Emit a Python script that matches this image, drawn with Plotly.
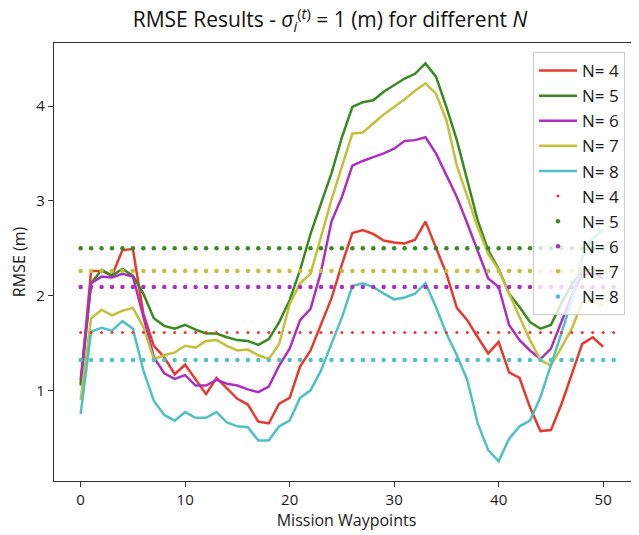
import plotly.graph_objects as go

waypoints = list(range(51))
mean_x = list(range(52))

rmse_n4 = [1.07, 2.26, 2.26, 2.21, 2.48, 2.49, 1.81, 1.47, 1.35, 1.17,
           1.27, 1.11, 0.96, 1.13, 1.02, 0.91, 0.85, 0.67, 0.65, 0.86,
           0.92, 1.25, 1.42, 1.69, 1.97, 2.33, 2.66, 2.69, 2.65, 2.58,
           2.56, 2.55, 2.59, 2.78, 2.51, 2.23, 1.87, 1.74, 1.56, 1.39,
           1.51, 1.19, 1.13, 0.82, 0.57, 0.58, 0.85, 1.18, 1.49, 1.56, 1.46]
rmse_n5 = [1.05, 2.13, 2.27, 2.21, 2.28, 2.21, 2.02, 1.76, 1.68, 1.65,
           1.69, 1.64, 1.60, 1.60, 1.56, 1.53, 1.52, 1.48, 1.54, 1.72,
           1.95, 2.27, 2.65, 2.97, 3.29, 3.67, 3.99, 4.04, 4.06, 4.15,
           4.22, 4.29, 4.34, 4.45, 4.31, 3.99, 3.64, 3.22, 2.79, 2.48,
           2.28, 2.02, 1.88, 1.72, 1.65, 1.69, 1.92, 2.12, 2.26, 2.28, 2.25]
rmse_n6 = [1.11, 2.13, 2.20, 2.19, 2.23, 2.20, 1.78, 1.35, 1.18, 1.12,
           1.16, 1.05, 1.05, 1.11, 1.07, 1.05, 1.01, 0.98, 1.04, 1.26,
           1.44, 1.74, 1.86, 2.25, 2.78, 3.04, 3.37, 3.42, 3.46, 3.50,
           3.55, 3.63, 3.64, 3.67, 3.50, 3.27, 3.04, 2.76, 2.48, 2.18,
           2.09, 1.69, 1.53, 1.42, 1.33, 1.44, 1.72, 2.00, 2.22, 2.24, 2.18]
rmse_n7 = [0.90, 1.76, 1.85, 1.79, 1.84, 1.87, 1.67, 1.33, 1.37, 1.40,
           1.47, 1.45, 1.52, 1.53, 1.47, 1.42, 1.43, 1.37, 1.33, 1.49,
           1.91, 2.13, 2.23, 2.62, 3.01, 3.36, 3.71, 3.72, 3.82, 3.91,
           3.99, 4.07, 4.16, 4.24, 4.13, 3.85, 3.37, 3.04, 2.72, 2.44,
           2.27, 2.02, 1.77, 1.53, 1.32, 1.26, 1.45, 1.65, 1.93, 1.95, 1.89]
rmse_n8 = [0.75, 1.62, 1.66, 1.63, 1.73, 1.65, 1.21, 0.89, 0.74, 0.68,
           0.77, 0.71, 0.71, 0.77, 0.66, 0.62, 0.61, 0.47, 0.47, 0.62,
           0.68, 0.92, 1.00, 1.21, 1.49, 1.77, 2.10, 2.13, 2.09, 2.02,
           1.96, 1.98, 2.02, 2.13, 1.88, 1.60, 1.37, 1.11, 0.65, 0.37,
           0.25, 0.49, 0.62, 0.68, 0.93, 1.26, 1.60, 1.95, 2.40, 2.60, 2.70]

mean_levels = [1.61, 2.50, 2.09, 2.26, 1.32]
labels = ["N= 4", "N= 5", "N= 6", "N= 7", "N= 8"]
colors = ["#e8392e", "#3a8a22", "#ac2fc2", "#c3c03a", "#4fc1c4"]
dot_sizes = [3, 4.5, 4.5, 4.5, 4.5]

series = [rmse_n4, rmse_n5, rmse_n6, rmse_n7, rmse_n8]

fig = go.Figure()
for lab, col, vals in zip(labels, colors, series):
    fig.add_trace(go.Scatter(x=waypoints, y=vals, mode="lines", name=lab,
                             line=dict(color=col, width=2.5)))
for lab, col, lvl, sz in zip(labels, colors, mean_levels, dot_sizes):
    fig.add_trace(go.Scatter(x=mean_x, y=[lvl] * len(mean_x), mode="markers",
                             name=lab, marker=dict(color=col, size=sz)))

# page body has an 8px margin; figure coordinates are page coordinates minus 8
W, H = 631, 527
font = "Open Sans, Noto Sans, sans-serif"
fig.update_layout(
    width=W, height=H,
    margin=dict(l=46, r=0, t=35, b=54, autoexpand=False),
    paper_bgcolor="white", plot_bgcolor="white",
    font=dict(family=font, size=15, color="#1a1a1a"),
    title=dict(text="RMSE Results - <i>σ</i><sub><i>i</i></sub><sup>(<i>t</i>)</sup> = 1 (m) for different <i>N</i>",
               x=322 / W, xref="container", xanchor="center", y=1 - 12 / H, yref="container",
               yanchor="middle", font=dict(size=21, color="#111")),
    showlegend=True,
    legend=dict(x=479 / 585, y=0.9795, xanchor="left", yanchor="top",
                bgcolor="rgba(255,255,255,0.8)", bordercolor="#cccccc", borderwidth=1,
                font=dict(size=17), tracegroupgap=0, itemwidth=38),
    xaxis=dict(range=[-2.55, 53.43], tickvals=[0, 10, 20, 30, 40, 50], automargin=False,
               showgrid=False, zeroline=False, showline=True, linecolor="#333",
               linewidth=1.2, mirror=True, ticks="outside", ticklen=5, tickcolor="#333",
               title=dict(text="Mission Waypoints", standoff=5, font=dict(size=16))),
    yaxis=dict(range=[0.043, 4.665], tickvals=[1, 2, 3, 4], automargin=False,
               showgrid=False, zeroline=False, showline=True, linecolor="#333",
               linewidth=1.2, ticks="outside", ticklen=5, tickcolor="#333",
               title=dict(text="RMSE (m)", standoff=6, font=dict(size=16))),
)

fig.write_html("out.html")
